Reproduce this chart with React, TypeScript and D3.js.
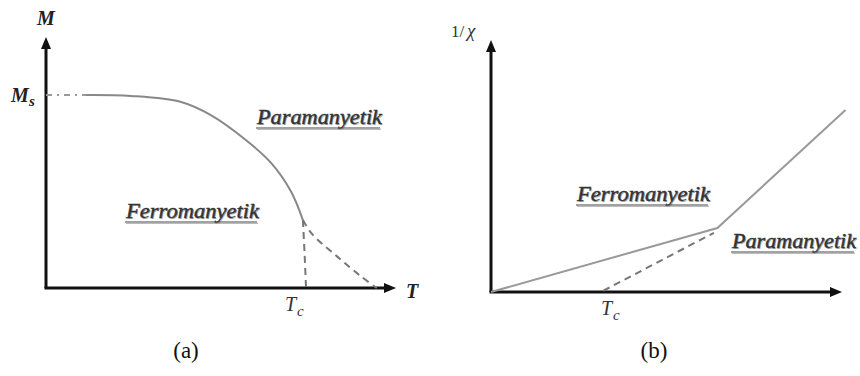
import React from "react";
import * as d3 from "d3";

// (a) Magnetisation vs temperature
const magT = [0, 11.4, 24.3, 38.6, 47.1, 57.1, 64.3, 70, 73.4];
const magM = [1, 1, 0.995, 0.964, 0.896, 0.767, 0.648, 0.5, 0.352];
// dashed continuations below the Tc junction
const tailAT = [73.4, 73.9, 74.3];
const tailAM = [0.352, 0.17, 0];
const tailBT = [73.4, 76, 83.4, 90, 94.5];
const tailBM = [0.352, 0.28, 0.16, 0.06, 0];

// (b) inverse susceptibility vs temperature
const invT = [0, 64.5, 101];
const invV = [0, 25.4, 72.2];
const extT = [32, 63.5];
const extV = [0.5, 23.5];

const W = 860;
const H = 376;

type P = [number, number];
const zip = (a: number[], b: number[]): P[] => a.map((v, i) => [v, b[i]]);

const serif = "Liberation Serif, Times New Roman, Tinos, serif";

function Label({ x, y, text, width }: { x: number; y: number; text: string; width: number }) {
  const common = {
    fontFamily: serif,
    fontStyle: "italic" as const,
    fontSize: 20,
    textLength: width,
    lengthAdjust: "spacingAndGlyphs",
  };
  return (
    <g>
      <text x={x + 1} y={y + 1} fill="#aaa" {...common}>
        {text}
      </text>
      <text x={x} y={y} fill="#333" stroke="#333" strokeWidth={0.4} {...common}>
        {text}
      </text>
      <line x1={x - 1} x2={x + width - 2} y1={y + 4} y2={y + 4} stroke="#444" strokeWidth={1.2} />
      <line x1={x} x2={x + width - 1} y1={y + 5.3} y2={y + 5.3} stroke="#aaa" strokeWidth={1} />
    </g>
  );
}

export default function App() {
  // panel (a) scales
  const xa = d3.scaleLinear().domain([0, 100]).range([46, 396]);
  const ya = d3.scaleLinear().domain([0, 1]).range([288, 95]);
  // panel (b) scales
  const xb = d3.scaleLinear().domain([0, 100]).range([491, 842]);
  const yb = d3.scaleLinear().domain([0, 100]).range([292, 40]);

  const lineA = d3
    .line<P>()
    .x((d) => xa(d[0]))
    .y((d) => ya(d[1]))
    .curve(d3.curveCatmullRom.alpha(0.5));
  const lineB = d3
    .line<P>()
    .x((d) => xb(d[0]))
    .y((d) => yb(d[1]));

  const mainPts = zip(magT, magM);
  const solidA = mainPts.slice(1);
  const ms: P[] = [mainPts[0], mainPts[1]];

  const arrowUp = (x: number, y: number) => `M${x},${y} L${x - 5},${y + 12} L${x + 5},${y + 12} Z`;
  const arrowRight = (x: number, y: number) => `M${x},${y} L${x - 12},${y - 5} L${x - 12},${y + 5} Z`;

  return (
    <svg width={W} height={H} style={{ position: "absolute", left: 0, top: 0, background: "#fff" }}>
      {/* panel (a) */}
      <line x1={xa(0)} y1={ya(0)} x2={xa(0)} y2={49} stroke="#111" strokeWidth={3} />
      <line x1={xa(0) - 1.5} y1={ya(0)} x2={xa(100) - 10} y2={ya(0)} stroke="#111" strokeWidth={3} />
      <path d={arrowUp(xa(0), 37)} fill="#111" />
      <path d={arrowRight(xa(100), ya(0))} fill="#111" />

      <path d={lineA(ms) ?? ""} fill="none" stroke="#999" strokeWidth={2} strokeDasharray="6 5 2 5" />
      <path d={lineA(solidA) ?? ""} fill="none" stroke="#888" strokeWidth={2} />
      <path d={lineA(zip(tailAT, tailAM)) ?? ""} fill="none" stroke="#777" strokeWidth={2} strokeDasharray="7 5" />
      <path d={lineA(zip(tailBT, tailBM)) ?? ""} fill="none" stroke="#777" strokeWidth={2} strokeDasharray="7 5" />

      <g fontFamily={serif} fontStyle="italic" fontWeight="bold" fill="#222">
        <text x={37} y={25} fontSize={20}>M</text>
        <text x={11} y={102} fontSize={20}>M</text>
        <text x={29} y={106} fontSize={15}>s</text>
        <text x={406} y={298} fontSize={20}>T</text>
      </g>
      <g fontFamily={serif} fontStyle="italic" fill="#333">
        <text x={285} y={311} fontSize={20}>T</text>
        <text x={297} y={316} fontSize={15}>c</text>
      </g>

      <Label x={257} y={124} text="Paramanyetik" width={125} />
      <Label x={126} y={218} text="Ferromanyetik" width={133} />

      {/* panel (b) */}
      <line x1={xb(0)} y1={yb(0)} x2={xb(0)} y2={52} stroke="#111" strokeWidth={3} />
      <line x1={xb(0) - 1.5} y1={yb(0)} x2={xb(100) - 10} y2={yb(0)} stroke="#111" strokeWidth={3} />
      <path d={arrowUp(xb(0), 40)} fill="#111" />
      <path d={arrowRight(xb(100), yb(0))} fill="#111" />

      <path d={lineB(zip(invT, invV)) ?? ""} fill="none" stroke="#999" strokeWidth={2} />
      <path d={lineB(zip(extT, extV)) ?? ""} fill="none" stroke="#777" strokeWidth={2} strokeDasharray="7 5" />

      <g fontFamily={serif} fill="#333">
        <text x={451} y={37} fontSize={17}>1/</text>
        <text x={467} y={37} fontSize={19} fontStyle="italic">χ</text>
        <text x={601} y={315} fontSize={20} fontStyle="italic">T</text>
        <text x={613} y={320} fontSize={15} fontStyle="italic">c</text>
      </g>

      <Label x={577} y={201} text="Ferromanyetik" width={133} />
      <Label x={732} y={248} text="Paramanyetik" width={124} />

      {/* captions */}
      <g fontFamily={serif} fontSize={23} fill="#111">
        <text x={186} y={358} textAnchor="middle">(a)</text>
        <text x={654} y={358} textAnchor="middle">(b)</text>
      </g>
    </svg>
  );
}
